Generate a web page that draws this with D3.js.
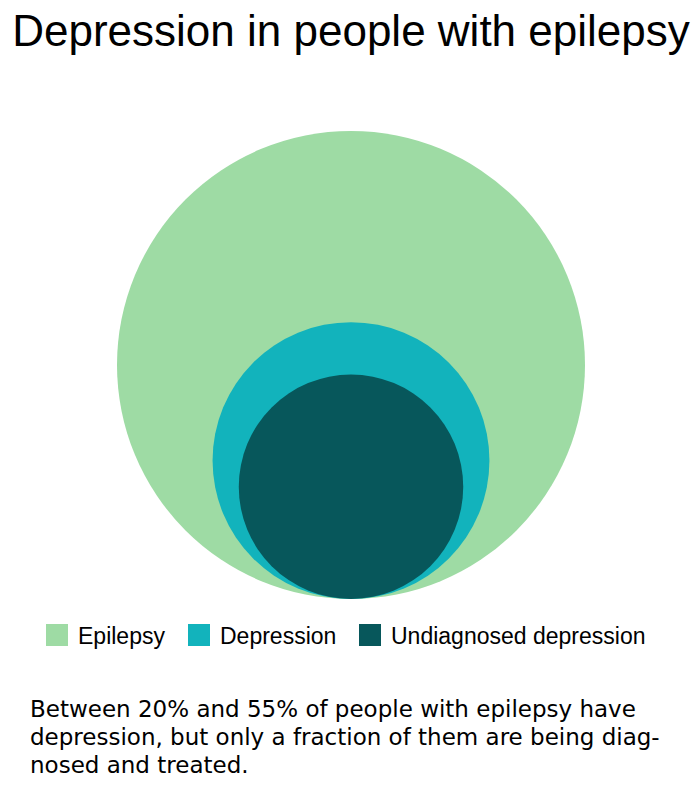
<!DOCTYPE html>
<html><head><meta charset="utf-8">
<script src="https://cdn.jsdelivr.net/npm/d3@7"></script>
<style>body{margin:0;background:#fff}</style>
</head><body>
<svg id="c" width="700" height="800"></svg>
<script>
const categories = ["Epilepsy", "Depression", "Undiagnosed depression"];
const values = [100, 35, 23];
const colors = ["#9edba4", "#12b3bc", "#07575b"];
const noteLines = ["Between 20% and 55% of people with epilepsy have",
  "depression, but only a fraction of them are being diag-",
  "nosed and treated."];

const svg = d3.select("#c");
svg.append("text").attr("x", 351).attr("y", 46).attr("text-anchor", "middle")
  .attr("font-family", "Liberation Sans, Arial").attr("font-size", 44).text("Depression in people with epilepsy");

const r = d3.scaleSqrt().domain([0, 100]).range([0, 234]);
const cx = 351, bottom = 599;
svg.selectAll("circle.b").data(values).join("circle")
  .attr("cx", cx).attr("cy", d => bottom - r(d)).attr("r", d => r(d))
  .attr("fill", (d, i) => colors[i]);

const lx = [46, 188, 359];
const lg = svg.selectAll("g.lg").data(categories).join("g")
  .attr("transform", (d, i) => `translate(${lx[i]},624)`);
lg.append("rect").attr("width", 22).attr("height", 22).attr("fill", (d, i) => colors[i]);
lg.append("text").attr("x", 32).attr("y", 20).attr("font-family", "Liberation Sans, Arial")
  .attr("font-size", 23).text(d => d);

svg.selectAll("text.n").data(noteLines).join("text")
  .attr("x", 30).attr("y", (d, i) => 717 + i * 28)
  .attr("font-family", "DejaVu Sans, Verdana").attr("font-size", 23).attr("textLength", null).text(d => d);
</script>
</body></html>
